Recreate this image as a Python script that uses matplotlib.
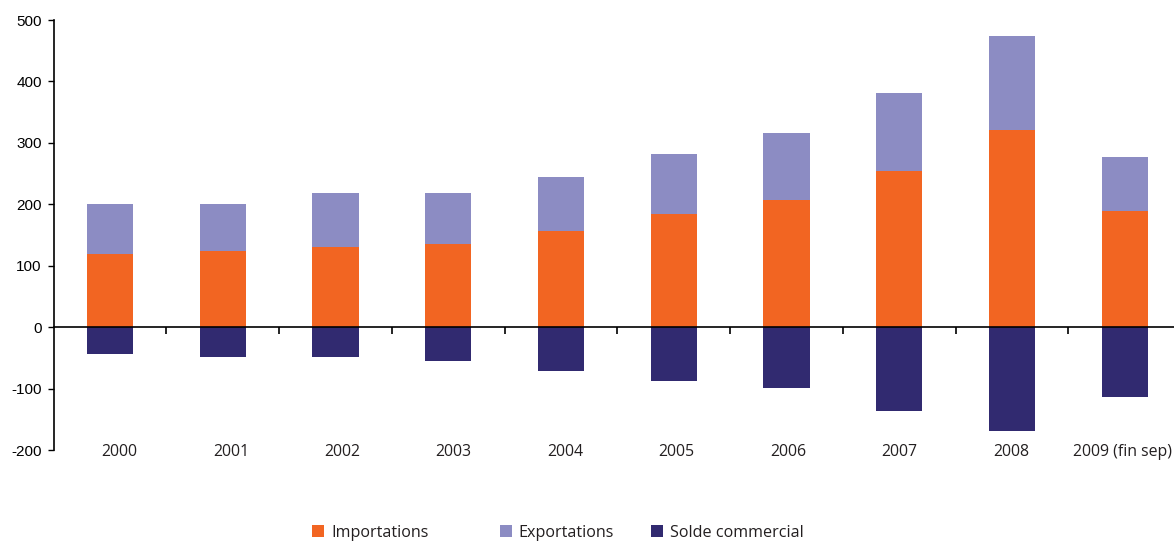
import matplotlib
matplotlib.use("Agg")
import matplotlib.pyplot as plt
from matplotlib.patches import Patch
import numpy as np

plt.rcParams["axes.unicode_minus"] = False

# Commerce extérieur (en milliards)
years = ["2000", "2001", "2002", "2003", "2004", "2005", "2006", "2007", "2008", "2009 (fin sep)"]
importations = [120, 124, 130, 136, 157, 185, 207, 254, 321, 189]
exportations = [81, 76, 88, 82, 87, 97, 109, 127, 153, 88]
solde = [-43, -48, -48, -55, -71, -87, -99, -136, -169, -113]

c_imp = "#F26522"
c_exp = "#8C8CC3"
c_sol = "#312A70"
txt = "#231F20"

fig = plt.figure(figsize=(11.74, 5.41), dpi=100)
ax = fig.add_axes([0.0456, 0.1677, 0.9604, 0.7953])

x = np.arange(len(years))
w = 0.41
ax.bar(x, importations, w, color=c_imp, zorder=2)
ax.bar(x, exportations, w, bottom=importations, color=c_exp, zorder=2)
ax.bar(x, solde, w, color=c_sol, zorder=2)

ax.set_xlim(-0.5, len(years) - 0.5)
ax.set_ylim(-200, 500)
ax.set_yticks(range(-200, 501, 100))
ax.tick_params(axis="y", direction="out", length=4.5, width=1, pad=4,
               labelsize=11, colors="black")
for lab in ax.get_yticklabels():
    lab.set_fontfamily("Liberation Sans")

for s in ("top", "right"):
    ax.spines[s].set_visible(False)
ax.spines["left"].set_linewidth(1.2)

# zero line carries the category separators
ax.spines["bottom"].set_position(("data", 0))
ax.spines["bottom"].set_linewidth(1.2)
ax.spines["bottom"].set_zorder(3)
ax.set_xticks(x + 0.5)
ax.set_xticklabels([])
ax.tick_params(axis="x", direction="out", length=5, width=1.2)

# category names along the bottom edge, spread slightly tighter than the bars
n = len(years)
label_pos = x + 0.085 * (1 - x / (n - 1)) - 0.02 * (x / (n - 1))
tr = ax.get_xaxis_transform()
for xi, name in zip(label_pos, years):
    ax.text(xi, -0.003, name, transform=tr, ha="center", va="center",
            fontsize=11.4, family="Open Sans", color=txt)

entries = [("Importations", c_imp, 0.266), ("Exportations", c_exp, 0.4255),
           ("Solde commercial", c_sol, 0.5545)]
for label, col, xpos in entries:
    fig.legend(handles=[Patch(facecolor=col, edgecolor="none")], labels=[label],
               loc="center left", bbox_to_anchor=(xpos, 0.015), frameon=False,
               handlelength=0.75, handleheight=0.75, handletextpad=0.45,
               borderaxespad=0, borderpad=0,
               prop={"family": "Open Sans", "size": 11.6}, labelcolor=txt)

fig.savefig("out.png", dpi=100)
